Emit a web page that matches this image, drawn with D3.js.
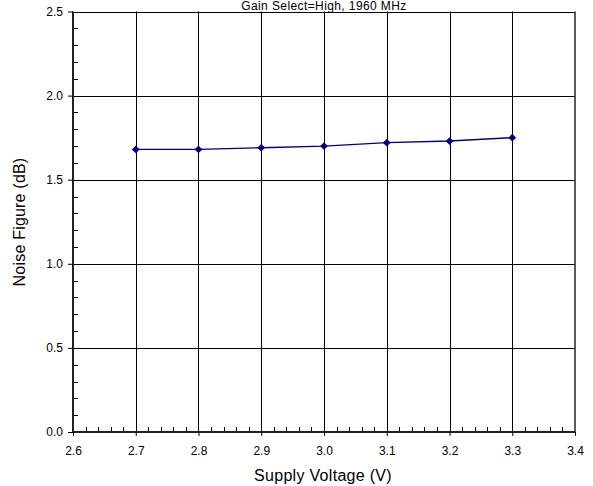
<!DOCTYPE html>
<html><head><meta charset="utf-8">
<script src="https://cdn.jsdelivr.net/npm/d3@7"></script>
<style>
html,body{margin:0;padding:0;background:#fff;}
svg{display:block;font-family:"Liberation Sans",Arial,sans-serif;}
</style></head>
<body><svg id="c" width="593" height="486"></svg>
<script>
const title = "Gain Select=High, 1960 MHz";
const xLabel = "Supply Voltage (V)";
const yLabel = "Noise Figure (dB)";
const voltages = [2.7, 2.8, 2.9, 3.0, 3.1, 3.2, 3.3];
const noiseFigure = [1.68, 1.68, 1.69, 1.70, 1.72, 1.73, 1.75];
const xTicks = [2.6, 2.7, 2.8, 2.9, 3.0, 3.1, 3.2, 3.3, 3.4];
const yTicks = [0.0, 0.5, 1.0, 1.5, 2.0, 2.5];

const svg = d3.select("#c");
const x = d3.scaleLinear().domain([2.6, 3.4]).range([73, 575]);
const y = d3.scaleLinear().domain([0, 2.5]).range([432, 11.5]);

// minor ticks
const xMinor = d3.range(2.6, 3.4001, 0.02).filter(v => Math.abs(Math.round(v*10) - v*10) > 1e-6);
const yMinor = d3.range(0, 2.5001, 0.1).filter(v => Math.abs(Math.round(v*2) - v*2) > 1e-6);

// gridlines
svg.append("g").selectAll("line").data(xTicks.slice(1, -1)).join("line")
  .attr("x1", d => Math.round(x(d)) + 0.5).attr("x2", d => Math.round(x(d)) + 0.5)
  .attr("y1", y(2.5)).attr("y2", y(0))
  .attr("stroke", "#000").attr("stroke-width", 1);
svg.append("g").selectAll("line").data(yTicks.slice(1)).join("line")
  .attr("y1", d => Math.round(y(d)) + 0.5).attr("y2", d => Math.round(y(d)) + 0.5)
  .attr("x1", x(2.6)).attr("x2", x(3.4))
  .attr("stroke", "#000").attr("stroke-width", 1);

// right border
svg.append("line").attr("x1", x(3.4)).attr("x2", x(3.4)).attr("y1", y(2.5)).attr("y2", y(0))
  .attr("stroke", "#333").attr("stroke-width", 1.6);

// minor ticks inside
svg.append("g").selectAll("line").data(xMinor).join("line")
  .attr("x1", d => Math.round(x(d)) + 0.5).attr("x2", d => Math.round(x(d)) + 0.5)
  .attr("y1", y(0)).attr("y2", y(0) - 5)
  .attr("stroke", "#000").attr("stroke-width", 1);
svg.append("g").selectAll("line").data(yMinor).join("line")
  .attr("y1", d => Math.round(y(d)) + 0.5).attr("y2", d => Math.round(y(d)) + 0.5)
  .attr("x1", x(2.6)).attr("x2", x(2.6) + 5)
  .attr("stroke", "#000").attr("stroke-width", 1);

// axes
const xAxis = d3.axisBottom(x).tickValues(xTicks).tickFormat(d3.format(".1f")).tickSize(4).tickPadding(10);
const yAxis = d3.axisLeft(y).tickValues(yTicks).tickFormat(d3.format(".1f")).tickSize(5).tickPadding(5);
const gx = svg.append("g").attr("transform", `translate(0,${y(0)})`).call(xAxis);
const gy = svg.append("g").attr("transform", `translate(${x(2.6)},0)`).call(yAxis);
[gx, gy].forEach(g => {
  g.select(".domain").attr("stroke", "#222").attr("stroke-width", 2);
  g.selectAll(".tick line").attr("stroke", "#000");
  g.selectAll("text").attr("font-size", 12).attr("fill", "#000")
    .attr("font-family", "Liberation Sans, Arial, sans-serif");
});
gx.select(".domain").attr("d", `M${x(2.6)},0H${x(3.4)}`);
gy.select(".domain").attr("d", `M0,${y(2.5)}V${y(0)}`);

// line + markers
const pts = voltages.map((v, i) => [v, noiseFigure[i]]);
svg.append("path").datum(pts)
  .attr("d", d3.line().x(d => x(d[0])).y(d => y(d[1])))
  .attr("fill", "none").attr("stroke", "#000080").attr("stroke-width", 1.3);
svg.append("g").selectAll("path").data(pts).join("path")
  .attr("d", d3.symbol(d3.symbolSquare, 30))
  .attr("transform", d => `translate(${x(d[0])},${y(d[1])}) rotate(45)`)
  .attr("fill", "#000080");

// labels
svg.append("text").attr("x", 324).attr("y", 9.5).attr("text-anchor", "middle")
  .attr("font-size", 12).attr("letter-spacing", 0.4).text(title);
svg.append("text").attr("x", 323).attr("y", 481).attr("text-anchor", "middle")
  .attr("font-size", 16).attr("letter-spacing", 0.3).text(xLabel);
svg.append("text").attr("transform", `translate(25,222) rotate(-90)`).attr("text-anchor", "middle")
  .attr("font-size", 16).attr("letter-spacing", 0.2).text(yLabel);
</script></body></html>
